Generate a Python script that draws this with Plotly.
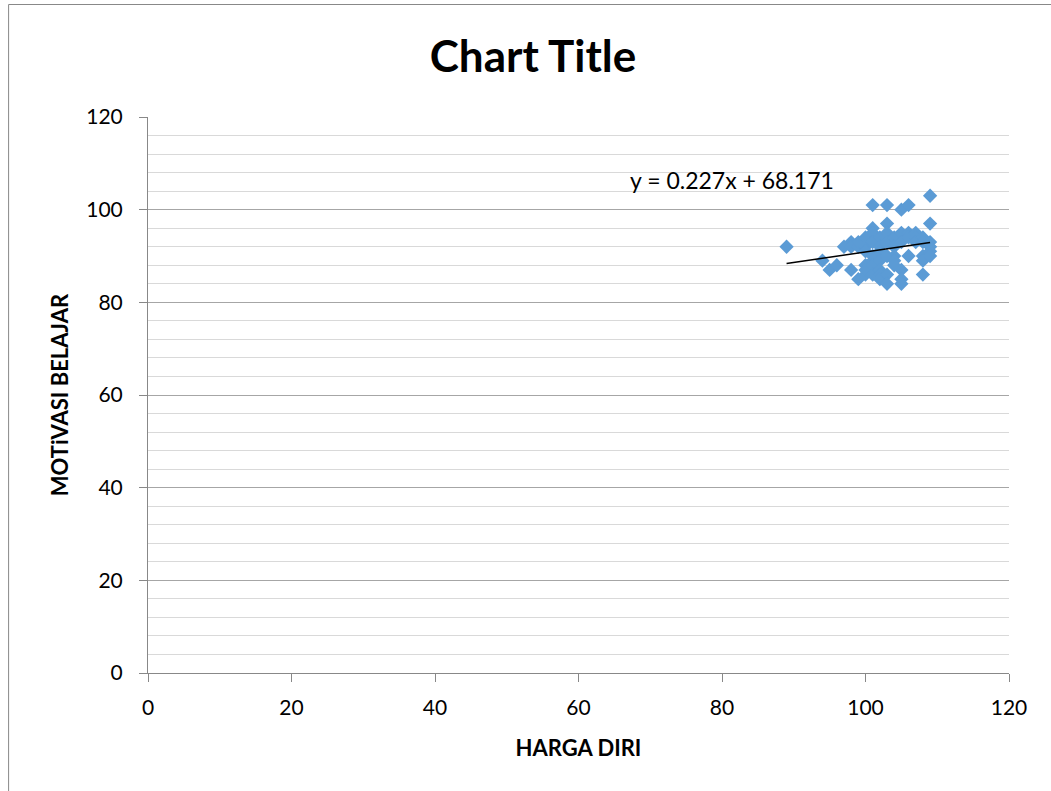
import plotly.graph_objects as go

# Survey scores: self-esteem (HARGA DIRI) vs. learning motivation (MOTiVASI BELAJAR)
harga_diri = [89, 94, 95, 96, 97, 98, 98, 98, 99, 99, 99, 100, 100, 100, 100, 100, 100,
              101, 101, 101, 101, 101, 101, 101, 101, 102, 102, 102, 102, 102, 102, 102,
              103, 103, 103, 103, 103, 103, 103, 104, 104, 104, 104, 104,
              105, 105, 105, 105, 105, 105, 106, 106, 106, 106, 107, 107, 107,
              108, 108, 108, 108, 108, 109, 109, 109, 109, 109, 109]
motivasi = [92, 89, 87, 88, 92, 87, 93, 92, 85, 92, 93, 94, 92, 91, 86, 88, 87,
            101, 96, 95, 93, 90, 89, 88, 86, 94, 92, 91, 89, 87, 86, 85,
            101, 97, 95, 93, 90, 86, 84, 94, 92, 90, 89, 88,
            100, 95, 93, 87, 85, 84, 101, 95, 94, 90, 95, 94, 93,
            94, 93, 90, 89, 86, 103, 97, 93, 92, 91, 90]

# Linear trendline coefficients as printed on the chart
slope = 0.227
intercept = 68.171
trend_x = [min(harga_diri), max(harga_diri)]
trend_y = [slope * v + intercept for v in trend_x]

tick_vals = [0, 20, 40, 60, 80, 100, 120]

FONT = "Lato, 'Open Sans', sans-serif"

fig = go.Figure()
fig.add_trace(go.Scatter(
    x=harga_diri, y=motivasi, mode="markers",
    marker=dict(symbol="diamond", size=11, color="#5B9BD5", line=dict(width=0)),
    showlegend=False, hoverinfo="x+y",
))
fig.add_trace(go.Scatter(
    x=trend_x, y=trend_y, mode="lines",
    line=dict(color="black", width=1.5),
    showlegend=False, hoverinfo="skip",
))

fig.update_layout(
    width=1051, height=791,
    margin=dict(l=148, r=42, t=117, b=118),
    paper_bgcolor="white", plot_bgcolor="white",
    font=dict(family=FONT, color="black", size=21),
    title=dict(text="<b>Chart Title</b>", x=533 / 1051, xanchor="center",
               y=1 - 57 / 791, yanchor="middle",
               font=dict(family=FONT, size=44, color="black")),
    xaxis=dict(
        range=[0, 120], tickvals=tick_vals, showgrid=False, zeroline=False,
        showline=True, linecolor="#888888", linewidth=1,
        ticks="outside", ticklen=8, tickcolor="#888888",
        tickfont=dict(size=21), ticklabelstandoff=8,
        title=dict(text="<b>HARGA DIRI</b>", font=dict(size=22), standoff=22),
    ),
    yaxis=dict(
        range=[0, 120], tickvals=tick_vals, showgrid=True, gridcolor="#A6A6A6",
        gridwidth=1, zeroline=False,
        showline=True, linecolor="#888888", linewidth=1,
        ticks="outside", ticklen=8, tickcolor="#888888",
        tickfont=dict(size=21), ticklabelstandoff=12,
        minor=dict(dtick=4, showgrid=True, gridcolor="#D9D9D9", gridwidth=1),
        title=dict(text="<b>MOTiVASI BELAJAR</b>", font=dict(size=22), standoff=11),
    ),
    annotations=[dict(
        x=81.4, y=106.5, xref="x", yref="y", showarrow=False,
        text="y = 0.227x + 68.171", font=dict(size=23, color="black"),
        xanchor="center", yanchor="middle",
    )],
    shapes=[dict(
        type="rect", xref="paper", yref="paper",
        x0=(9 - 148.3) / 860.4, x1=(1070 - 148.3) / 860.4,
        y0=(673.5 - 810) / 556, y1=(673.5 - 5) / 556,
        line=dict(color="#888888", width=1), fillcolor="rgba(0,0,0,0)", layer="below",
    )],
)

fig.write_html("out.html")
